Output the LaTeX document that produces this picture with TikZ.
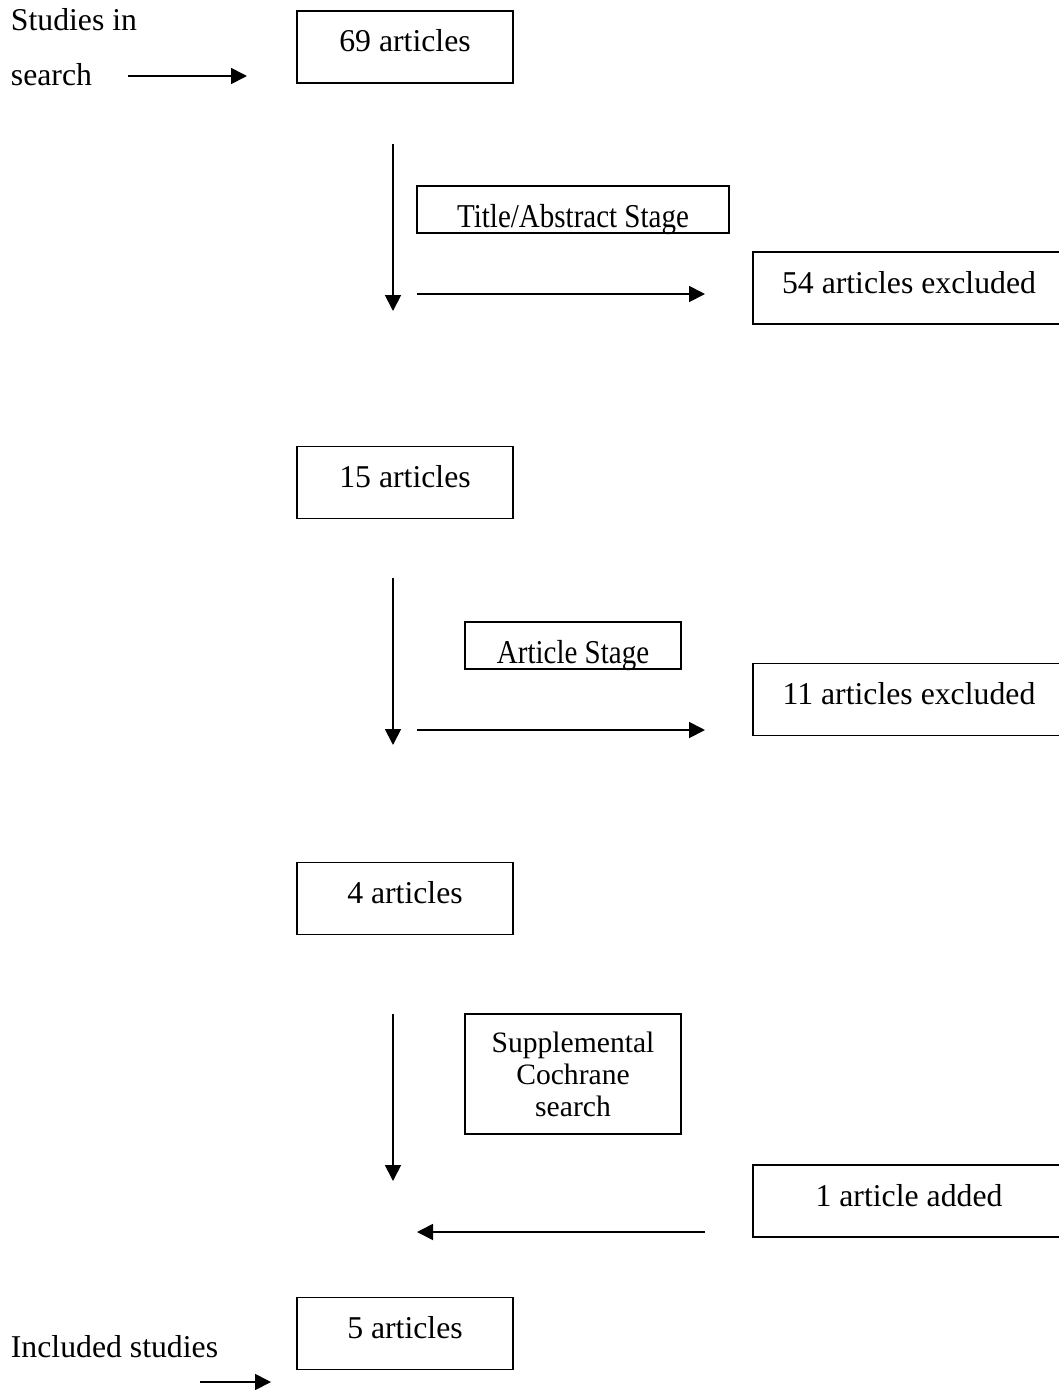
\documentclass[tikz,border=0pt]{standalone}
\usepackage{graphicx}
\usepackage{fontspec}
\setmainfont{Liberation Serif}
\usetikzlibrary{arrows.meta}

\newcommand{\tallstage}[1]{\scalebox{1}[1.15]{#1}}

\begin{document}
\begin{tikzpicture}[x=1pt, y=-1pt, line width=1.8pt,
    >={Triangle[length=16pt,width=16pt]},
    font=\fontsize{31.75}{33}\selectfont,
    countbox/.style={draw, rectangle, minimum width=216pt, minimum height=72pt, inner sep=0pt, text height=22pt, text depth=13pt},
    outbox/.style={draw, rectangle, minimum width=312pt, minimum height=72pt, inner sep=0pt, text height=22pt, text depth=12pt},
    stagebox/.style={draw, rectangle, minimum height=47pt, inner sep=0pt, text height=35pt, text depth=0pt, font=\fontsize{29}{32}\selectfont},
    sidelabel/.style={anchor=base west, inner sep=0pt}]
          \useasboundingbox (0,0) rectangle (1058,1390);

          % Nodes for article counts (main column)
          \node[countbox] (N69) at (405, 47) {69 articles};
          \node[countbox] (N15) at (405, 482.5) {15 articles};
          \node[countbox] (N4) at (405, 898.5) {4 articles};
          \node[countbox] (N5) at (405, 1333.5) {5 articles};

          % Nodes for screening stages
          \node[stagebox, minimum width=312pt] (S1) at (573, 209.5) {\tallstage{Title/Abstract Stage}};
          \node[stagebox, minimum width=216pt] (S2) at (573, 645.5) {\tallstage{Article Stage}};
          \node[draw, rectangle, minimum width=216pt, minimum height=120pt, inner sep=0pt, align=center,
                font=\fontsize{29.6}{32}\selectfont] (S3) at (573, 1074) {Supplemental\\Cochrane\\search};

          % Nodes for excluded / added articles
          \node[outbox] (E54) at (909, 288) {54 articles excluded};
          \node[outbox] (E11) at (909, 699.5) {11 articles excluded};
          \node[outbox] (A1) at (909, 1201) {1 article added};

          % Side labels
          \node[sidelabel] (L1) at (10, 30) {Studies in};
          \node[sidelabel] (L2) at (10, 85) {search};
          \node[sidelabel] (L3) at (10, 1357) {Included studies};

          % Arrow end points
          \coordinate (a1s) at (128, 76);
          \coordinate (a1e) at (247, 76);
          \coordinate (v1s) at (393, 144);
          \coordinate (v1e) at (393, 311);
          \coordinate (h1s) at (417, 294);
          \coordinate (h1e) at (705, 294);
          \coordinate (v2s) at (393, 578);
          \coordinate (v2e) at (393, 745);
          \coordinate (h2s) at (417, 730);
          \coordinate (h2e) at (705, 730);
          \coordinate (v3s) at (393, 1014);
          \coordinate (v3e) at (393, 1181);
          \coordinate (h3s) at (705, 1232);
          \coordinate (h3e) at (417, 1232);
          \coordinate (a2s) at (200, 1382);
          \coordinate (a2e) at (271, 1382);

          % Arrows
          \draw [->] (a1s) -- (a1e);
          \draw [->] (v1s) -- (v1e);
          \draw [->] (h1s) -- (h1e);
          \draw [->] (v2s) -- (v2e);
          \draw [->] (h2s) -- (h2e);
          \draw [->] (v3s) -- (v3e);
          \draw [->] (h3s) -- (h3e);
          \draw [->] (a2s) -- (a2e);
        \end{tikzpicture}
\end{document}
